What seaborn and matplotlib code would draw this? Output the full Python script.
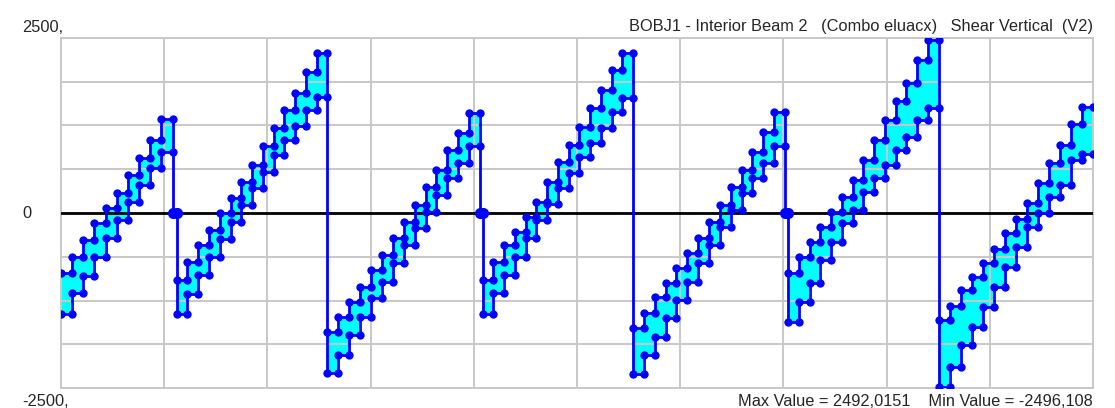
import numpy as np
import matplotlib
matplotlib.use("Agg")
import matplotlib.pyplot as plt
import seaborn as sns

# stations along the beam (axis units, one grid cell = 1)
span_start = [0.0, 1.121, 2.582, 4.086, 5.543, 7.045, 8.503]
span_end = [1.082, 2.582, 4.060, 5.543, 7.016, 8.503, 10.0]
n_steps = [10, 14, 14, 14, 14, 14, 14]

# shear envelope, one value per step
upper = [
    [-860, -625, -385, -150, 65, 280, 545, 780, 1045, 1340],
    [-957, -695, -457, -243, -5, 210, 448, 686, 957, 1210, 1471, 1719, 2010, 2280],
    [-1695, -1481, -1267, -1052, -814, -600, -362, -124, 114, 376, 614, 900, 1138, 1435],
    [-957, -695, -457, -267, -52, 162, 448, 733, 971, 1233, 1495, 1757, 2043, 2285],
    [-1648, -1433, -1195, -1005, -790, -576, -362, -124, 114, 376, 614, 876, 1162, 1440],
    [-862, -624, -410, -195, 19, 233, 471, 757, 1043, 1329, 1600, 1862, 2186, 2470],
    [-1529, -1329, -1100, -910, -719, -519, -290, -90, 138, 424, 710, 971, 1267, 1520],
]
lower = [
    [-1440, -1148, -895, -624, -362, -100, 162, 400, 638, 876],
    [-1440, -1157, -886, -624, -376, -124, 114, 352, 590, 829, 1043, 1243, 1471, 1662],
    [-2290, -2029, -1743, -1481, -1219, -981, -719, -457, -219, 19, 257, 495, 710, 957],
    [-1440, -1148, -886, -624, -362, -100, 129, 352, 567, 805, 995, 1210, 1448, 1638],
    [-2300, -2029, -1767, -1505, -1243, -981, -719, -457, -195, 43, 281, 495, 710, 957],
    [-1560, -1267, -1005, -671, -410, -148, 43, 305, 495, 686, 900, 1090, 1329, 1495],
    [-2480, -2195, -1886, -1624, -1338, -1052, -767, -481, -195, -5, 233, 400, 757, 843],
]

# supports: 'joint' = shear returns to zero between beams, 'cont' = continuous
junction = ["joint", "cont", "joint", "cont", "joint", "cont"]

title = "BOBJ1 - Interior Beam 2   (Combo eluacx)   Shear Vertical  (V2)"
footer = "Max Value = 2492,0151    Min Value = -2496,108"

sns.set_theme(style="white")
plt.rcParams["font.family"] = ["Liberation Sans", "DejaVu Sans"]

BLUE = "#0000FF"
CYAN = "#00FFFF"
GRID = "#C8C8C8"

fig = plt.figure(figsize=(11.15, 4.08), dpi=100)
ax = fig.add_axes([61 / 1115, 1 - 388 / 408, (1093 - 61) / 1115, (388 - 38) / 408])

dot = dict(marker="o", markersize=6, markeredgewidth=0)

for i in range(len(n_steps)):
    x = np.linspace(span_start[i], span_end[i], n_steps[i] + 1)
    up = np.array(upper[i], dtype=float)
    lo = np.array(lower[i], dtype=float)
    ax.fill_between(x, np.append(up, up[-1]), np.append(lo, lo[-1]),
                    step="post", color=CYAN, lw=0, zorder=1)
    xs = np.repeat(x, 2)[1:-1]
    for lev in (up, lo):
        sns.lineplot(x=xs, y=np.repeat(lev, 2), estimator=None, sort=False,
                     color=BLUE, lw=2, zorder=4, ax=ax, **dot)

# connectors at the supports
for i, kind in enumerate(junction):
    xa, xb = span_end[i], span_start[i + 1]
    top = upper[i][-1]
    bot = lower[i + 1][0]
    if kind == "joint":
        ax.plot([xa, xa, xb, xb], [top, 0, 0, bot], color=BLUE, lw=2, zorder=4)
        ax.plot([xa, xb], [0, 0], color=BLUE, lw=0, zorder=5, markersize=8,
                marker="o", markeredgewidth=0)
    else:
        ax.plot([xa, xa], [top, bot], color=BLUE, lw=2, zorder=4)

ax.axhline(0, color="black", lw=2, zorder=3)

ax.set_xlim(0, 10)
ax.set_ylim(-2500, 2500)
ax.set_xticks(np.arange(0, 11, 1))
ax.set_yticks(np.arange(-2500, 2501, 625))
ax.set_xticklabels([])
ax.set_yticklabels([])
ax.tick_params(length=0)
ax.set_axisbelow(False)
ax.grid(True, color=GRID, lw=1.4)
for sp in ax.spines.values():
    sp.set_color(GRID)
    sp.set_linewidth(1.4)
ax.set_xlabel("")
ax.set_ylabel("")

fs = 11.8
fig.text(22 / 1115, 1 - 27 / 408, "2500,", fontsize=fs, va="center", ha="left")
fig.text(22 / 1115, 1 - 213 / 408, "0", fontsize=fs, va="center", ha="left")
fig.text(22 / 1115, 1 - 401 / 408, "-2500,", fontsize=fs, va="center", ha="left")
fig.text(1093 / 1115, 1 - 27 / 408, title, fontsize=fs, va="center", ha="right")
fig.text(1093 / 1115, 1 - 401 / 408, footer, fontsize=fs, va="center", ha="right")

fig.savefig("out.png", dpi=100)
